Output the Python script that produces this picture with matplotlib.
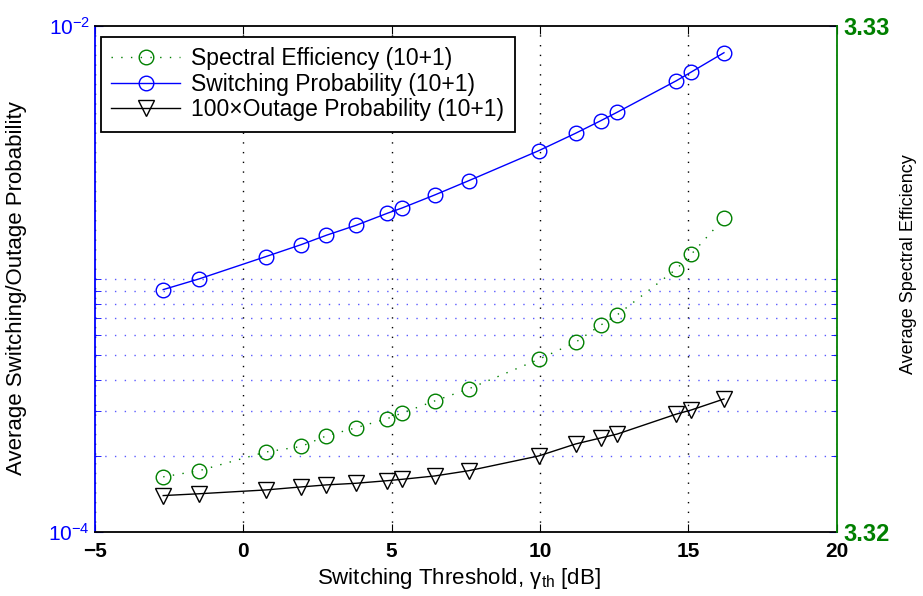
import matplotlib as mpl
import matplotlib.pyplot as plt
import numpy as np
from matplotlib.ticker import FixedLocator, FixedFormatter, NullFormatter

# switching threshold [dB]
x_th = [-2.7, -1.5, 0.75, 1.95, 2.8, 3.8, 4.85, 5.35, 6.45, 7.6,
        9.95, 11.2, 12.05, 12.6, 14.6, 15.1, 16.2]
# average spectral efficiency (right axis)
spec_eff = [3.32109, 3.32121, 3.32158, 3.32169, 3.32190, 3.32206, 3.32224, 3.32235,
            3.32259, 3.32283, 3.32341, 3.32375, 3.32409, 3.32429, 3.32520, 3.32549, 3.32620]
# average switching probability (left axis, log)
sw_prob = [9.08e-4, 1.00e-3, 1.225e-3, 1.367e-3, 1.489e-3, 1.630e-3, 1.818e-3, 1.908e-3,
           2.148e-3, 2.447e-3, 3.212e-3, 3.767e-3, 4.224e-3, 4.56e-3, 6.08e-3, 6.58e-3, 7.84e-3]
# 100 x outage probability (left axis, log)
out_prob = [1.393e-4, 1.416e-4, 1.466e-4, 1.507e-4, 1.535e-4, 1.558e-4, 1.595e-4, 1.615e-4,
            1.665e-4, 1.747e-4, 1.997e-4, 2.228e-4, 2.354e-4, 2.438e-4, 2.925e-4, 3.036e-4, 3.355e-4]

x_ticks = [-5, 0, 5, 10, 15, 20]
x_labels = ['\u22125', '0', '5', '10', '15', '20']
left_ticks = [1e-4, 1e-2]
left_labels = [r'$\mathregular{10^{-4}}$', r'$\mathregular{10^{-2}}$']
left_minor = [2e-4, 3e-4, 4e-4, 5e-4, 6e-4, 7e-4, 8e-4, 9e-4, 1e-3]
right_ticks = [3.32, 3.33]
right_labels = ['3.32', '3.33']

blue = '#0000ff'
green = '#008000'

mpl.rcParams['font.family'] = ['Liberation Sans', 'DejaVu Sans']
mpl.rcParams['mathtext.fontset'] = 'custom'
mpl.rcParams['mathtext.rm'] = 'Liberation Sans'
mpl.rcParams['mathtext.it'] = 'Liberation Sans:italic'

fig = plt.figure(figsize=(9.23, 5.96), dpi=100)
ax1 = fig.add_axes([0.1029, 0.1074, 0.9065 - 0.1029, 0.9564 - 0.1074])
ax2 = ax1.twinx()

l2, = ax1.plot(x_th, sw_prob, '-', color=blue, lw=1.0, marker='o', ms=10.5,
               mfc='none', mec=blue, mew=1.0, label='Switching Probability (10+1)')
l3, = ax1.plot(x_th, out_prob, '-', color='black', lw=1.0, marker='v', ms=11,
               mfc='none', mec='black', mew=1.0, label='100\u00d7Outage Probability (10+1)')
l1, = ax2.plot(x_th, spec_eff, color=green, lw=1.0, ls=(0, (1, 6)), marker='o', ms=10.5,
               mfc='none', mec=green, mew=1.0, label='Spectral Efficiency (10+1)')

ax1.set_yscale('log')
ax1.set_xlim(-5, 20)
ax1.set_ylim(1e-4, 1e-2)
ax1.xaxis.set_major_locator(FixedLocator(x_ticks))
ax1.set_xticklabels(x_labels, fontsize=15, fontweight='bold')
ax1.yaxis.set_major_locator(FixedLocator(left_ticks))
ax1.yaxis.set_major_formatter(FixedFormatter(left_labels))
ax1.yaxis.set_minor_locator(FixedLocator(left_minor))
ax1.yaxis.set_minor_formatter(NullFormatter())
ax1.tick_params(axis='y', which='both', colors=blue, direction='in', left=True, right=True,
                labelsize=15)
ax1.tick_params(axis='y', which='major', length=6)
ax1.tick_params(axis='y', which='minor', length=4)
ax1.tick_params(axis='x', direction='in', top=True, length=6, pad=7)
ax1.grid(True, axis='x', color='black', ls=(0, (1, 6)), lw=1.0)
ax1.grid(True, axis='y', which='minor', color='#5a5aff', ls=(0, (1, 6)), lw=1.0)
ax1.spines['left'].set_color(blue)
ax1.spines['right'].set_visible(False)
for s in ['top', 'bottom', 'left']:
    ax1.spines[s].set_linewidth(1.3)

ax2.set_ylim(3.32, 3.33)
ax2.yaxis.set_major_locator(FixedLocator(right_ticks))
ax2.yaxis.set_major_formatter(FixedFormatter(right_labels))
ax2.tick_params(axis='y', colors=green, direction='in', length=0, labelsize=17, pad=5)
for lab in ax2.get_yticklabels():
    lab.set_fontweight('bold')
ax2.spines['right'].set_color(green)
ax2.spines['right'].set_linewidth(1.3)
for s in ['top', 'bottom', 'left']:
    ax2.spines[s].set_visible(False)

ax1.set_xlabel(r'Switching Threshold, $\mathregular{\gamma_{th}}$ [dB]', fontsize=16)
ax1.xaxis.set_label_coords(0.49, -0.068)
ax1.set_ylabel('Average Switching/Outage Probability', fontsize=16)
ax1.yaxis.set_label_coords(-0.092, 0.482)
ax2.set_ylabel('Average Spectral Efficiency', fontsize=13)
ax2.yaxis.set_label_coords(1.085, 0.53)

leg = ax2.legend(handles=[l1, l2, l3], loc='upper left', bbox_to_anchor=(0.008, 0.979),
                 borderaxespad=0, fontsize=16.5, handlelength=3.0, handletextpad=0.5,
                 labelspacing=0.12, borderpad=0.45, fancybox=False, framealpha=1,
                 edgecolor='black')
leg.get_frame().set_linewidth(1.3)

fig.savefig('out.png', dpi=100)
